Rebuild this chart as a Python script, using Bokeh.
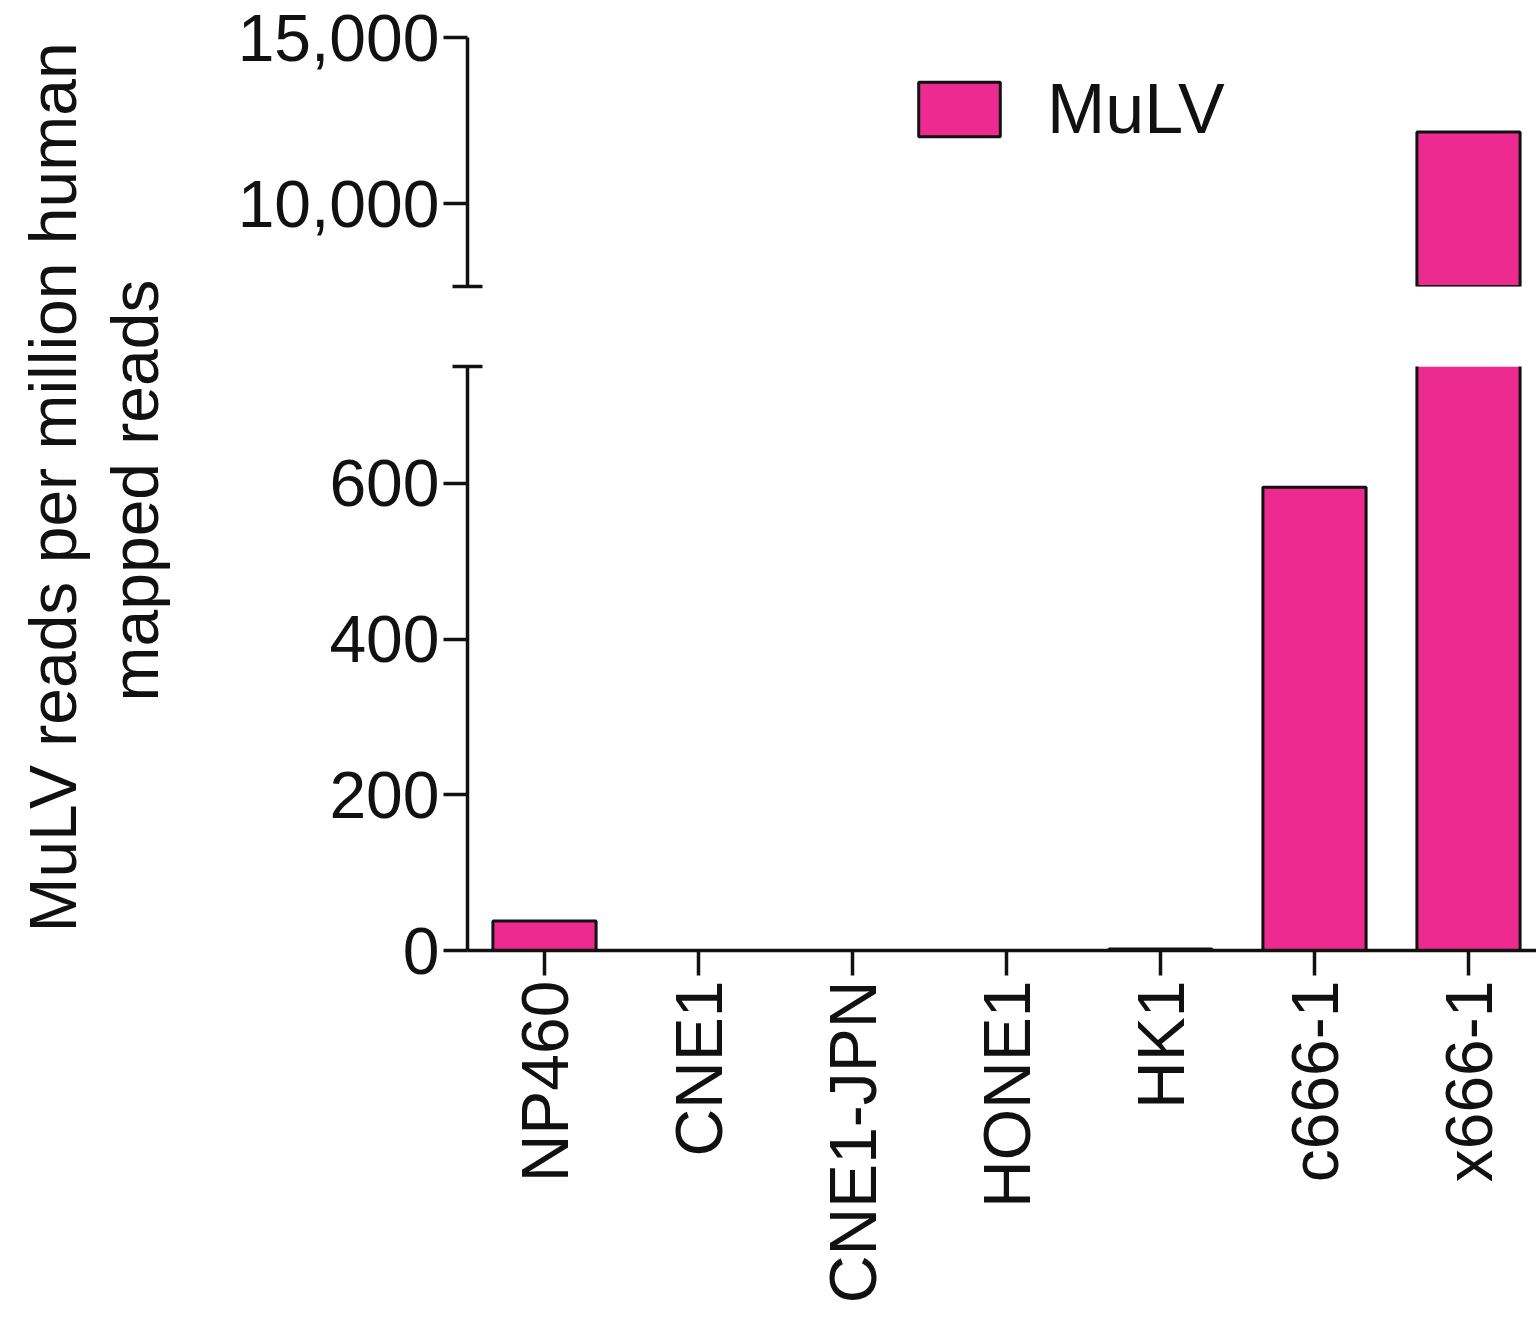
from math import pi

from bokeh.core.properties import value
from bokeh.embed import file_html
from bokeh.layouts import column, row
from bokeh.models import (BooleanFilter, CDSView, ColumnDataSource, FixedTicker,
                          Legend, LegendItem, NumeralTickFormatter, Range1d)
from bokeh.plotting import figure
from bokeh.resources import INLINE

# MuLV reads per million human mapped reads, per cell line
cell_lines = ["NP460", "CNE1", "CNE1-JPN", "HONE1", "HK1", "c666-1", "x666-1"]
mulv_reads = [38, 0, 0, 0, 2, 595, 12150]
series_name = "MuLV"

# broken y axis: lower and upper segments
lower_ticks = [0, 200, 400, 600]
upper_ticks = [10000, 15000]
lower_limits = (0, 750)
upper_limits = (7500, 15000)

PINK = "#EC2A90"
INK = "#111111"
FONT = "Liberation Sans"
BAR_W = 0.67
EDGE_W = 3

TOTAL_W, TOTAL_H = 1536, 1320
TITLE_W = 170
PLOT_W = TOTAL_W - TITLE_W
LEFT = 297
UPPER_H = 326
LOWER_H = TOTAL_H - UPPER_H

xs = list(range(len(cell_lines)))
x_span = Range1d(-0.5, -0.5 + 1069 / 154)

src = ColumnDataSource(data=dict(
    x=xs,
    name=cell_lines,
    reads=mulv_reads,
    left=[x - BAR_W / 2 for x in xs],
    right=[x + BAR_W / 2 for x in xs],
    base=[0] * len(xs),
))


def style_y(ax, ticks, cap):
    ax.ticker = FixedTicker(ticks=ticks, minor_ticks=[cap])
    ax.formatter = NumeralTickFormatter(format="0,0")
    ax.axis_line_width = 3.5
    ax.axis_line_color = INK
    ax.major_tick_line_width = 3.5
    ax.major_tick_line_color = INK
    ax.major_tick_out = 24
    ax.major_tick_in = 0
    # the minor tick at the segment end draws the break cap
    ax.minor_tick_line_width = 3.5
    ax.minor_tick_line_color = INK
    ax.minor_tick_out = 15
    ax.minor_tick_in = 15
    ax.major_label_standoff = 4
    ax.major_label_text_font = FONT
    ax.major_label_text_font_size = "66px"
    ax.major_label_text_color = INK


def base(height, y_lims, top, bottom, x_axis):
    p = figure(
        width=PLOT_W, height=height,
        x_range=x_span, y_range=Range1d(*y_lims),
        output_backend="svg", toolbar_location=None,
        x_axis_location="below" if x_axis else None,
        min_border_left=LEFT, min_border_right=0,
        min_border_top=top, min_border_bottom=bottom,
    )
    p.xgrid.visible = False
    p.ygrid.visible = False
    p.outline_line_color = None
    return p


def draw_bars(p, lo, hi):
    """Bars of one axis segment: filled bodies, with edges only where the
    bar is not cut by the axis break."""
    shown = CDSView(filter=BooleanFilter([v > lo for v in mulv_reads]))
    whole = CDSView(filter=BooleanFilter([lo < v <= hi for v in mulv_reads]))
    cut = CDSView(filter=BooleanFilter([v > hi for v in mulv_reads]))
    p.vbar(x="x", top="reads", bottom="base", width=BAR_W, source=src,
           view=shown, fill_color=PINK, line_color=None)
    p.vbar(x="x", top="reads", bottom="base", width=BAR_W, source=src,
           view=whole, fill_color=None, line_color=INK, line_width=EDGE_W)
    for side in ("left", "right"):
        p.segment(x0=side, y0="base", x1=side, y1="reads", source=src,
                  view=cut, line_color=INK, line_width=EDGE_W)


# upper segment (7,500 - 15,000)
up = base(UPPER_H, upper_limits, 37, 40, False)
draw_bars(up, upper_limits[0], float("inf"))
style_y(up.yaxis[0], upper_ticks, upper_limits[0])

swatch = up.vbar(x=[0], top=[0], width=0, fill_color=PINK, line_color=INK,
                 line_width=EDGE_W, visible=False)
legend = Legend(
    items=[LegendItem(label=series_name, renderers=[swatch])],
    location=(441, 137),
    glyph_width=102, glyph_height=68, label_standoff=37,
    label_text_font=FONT, label_text_font_size="70px", label_text_color=INK,
    padding=0, margin=0, border_line_color=None, background_fill_alpha=0,
)
up.add_layout(legend, "center")

# lower segment (0 - 750)
low = base(LOWER_H, lower_limits, 40, LOWER_H - 40 - 584, True)
draw_bars(low, lower_limits[0] - 1, lower_limits[1])
style_y(low.yaxis[0], lower_ticks, lower_limits[1])

xa = low.xaxis[0]
xa.ticker = FixedTicker(ticks=xs)
xa.major_label_overrides = {i: name for i, name in enumerate(cell_lines)}
xa.major_label_orientation = pi / 2
xa.major_label_standoff = 5
xa.major_label_text_font = FONT
xa.major_label_text_font_size = "66px"
xa.major_label_text_color = INK
xa.axis_line_width = 3.5
xa.axis_line_color = INK
xa.major_tick_line_width = 3.5
xa.major_tick_line_color = INK
xa.major_tick_out = 25
xa.major_tick_in = 0
xa.minor_tick_line_color = None

# shared y-axis title spanning both segments
tt = figure(
    width=TITLE_W, height=TOTAL_H,
    x_range=Range1d(0, TITLE_W), y_range=Range1d(TOTAL_H, 0),
    output_backend="svg", toolbar_location=None,
    x_axis_location=None, y_axis_location=None,
    min_border=0,
)
tt.xgrid.visible = False
tt.ygrid.visible = False
tt.outline_line_color = None
tt.text(x=[52, 134], y=[487, 490],
        text=["MuLV reads per million human", "mapped reads"],
        angle=pi / 2, text_align="center", text_baseline="middle",
        text_font=value(FONT), text_font_size="66px", text_color=INK)

layout = row(tt, column(up, low, spacing=0), spacing=0)

open("out.html", "w").write(file_html(layout, INLINE))
